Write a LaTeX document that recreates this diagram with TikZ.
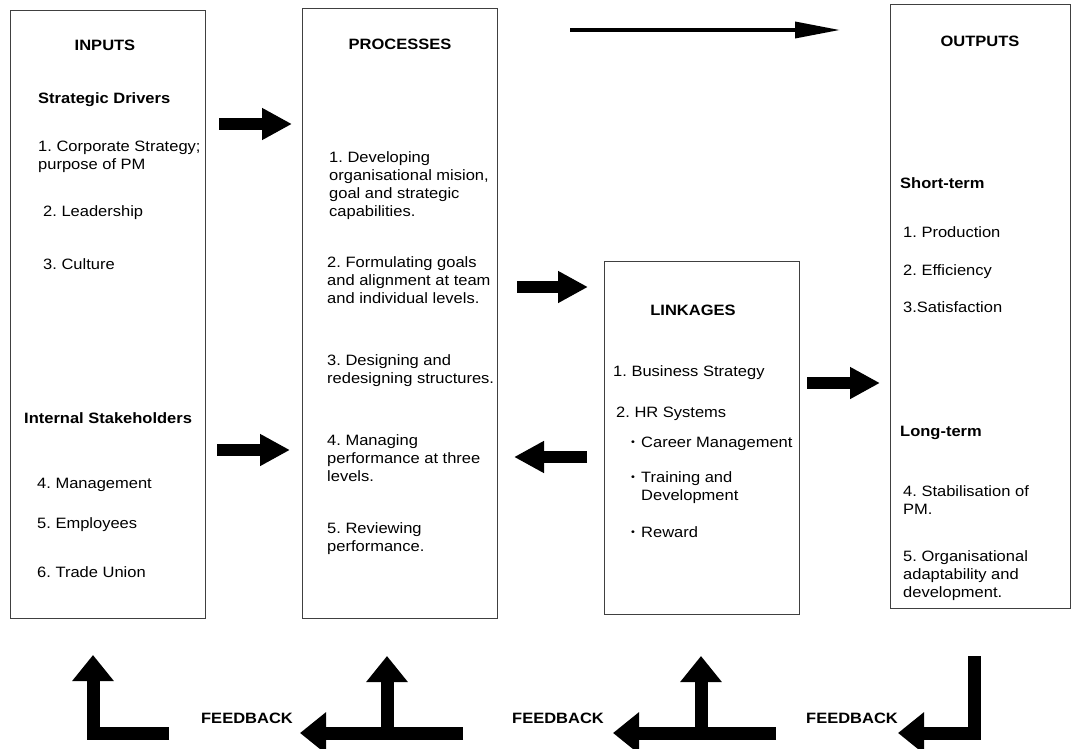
\documentclass[tikz,border=0pt]{standalone}
\usepackage{fontspec}
\setmainfont{Liberation Sans}[FakeStretch=1.1]
\usetikzlibrary{arrows.meta}
\frenchspacing
\newcommand\mybul{\makebox[10pt][l]{\raisebox{1.5pt}{\fontsize{10}{12}\selectfont\textbullet}}}
\begin{document}
\begin{tikzpicture}[x=1pt,y=-1pt,
  box/.style={draw=black!75, line width=1.1pt, anchor=north west, inner sep=0pt},
  txt/.style={anchor=base west, inner sep=0pt, align=left, font=\fontsize{15}{18}\selectfont},
  hd/.style={anchor=base, inner sep=0pt, font=\fontsize{15}{18}\selectfont\bfseries},
  sub/.style={anchor=base west, inner sep=0pt, font=\fontsize{15}{18}\selectfont\bfseries},
  blk/.style={line width=12pt, -{Triangle[length=30pt,width=30pt]}},
  fb/.style={line width=13pt, line join=miter, -{Triangle[length=26pt,width=40pt]}},
  thin/.style={line width=3.5pt, -{Triangle[length=45pt,width=16pt]}},
]
\useasboundingbox (0,0) rectangle (1071,749);
% boxes
\node[box, minimum width=195pt, minimum height=608pt] (inputs) at (10,10) {};
\node[box, minimum width=195pt, minimum height=610pt] (processes) at (302,8) {};
\node[box, minimum width=195pt, minimum height=353pt] (linkages) at (604,261) {};
\node[box, minimum width=180pt, minimum height=604pt] (outputs) at (890,4) {};

% INPUTS
\node[hd] (inT) at (105,51) {INPUTS};
\node[sub] (inS) at (38,104) {Strategic Drivers};
\node[txt] (in1) at (38,170) {1. Corporate Strategy;\\purpose of PM};
\node[txt] (in2) at (43,216) {2. Leadership};
\node[txt] (in3) at (43,269) {3. Culture};
\node[sub] (inI) at (24,423) {Internal Stakeholders};
\node[txt] (in4) at (37,488) {4. Management};
\node[txt] (in5) at (37,528) {5. Employees};
\node[txt] (in6) at (37,577) {6. Trade Union};

% PROCESSES
\node[hd] (prT) at (400,50) {PROCESSES};
\node[txt] (pr1) at (329,216) {1. Developing\\organisational mision,\\goal and strategic\\capabilities.};
\node[txt] (pr2) at (327,303) {2. Formulating goals\\and alignment at team\\and individual levels.};
\node[txt] (pr3) at (327,383) {3. Designing and\\redesigning structures.};
\node[txt] (pr4) at (327,481) {4. Managing\\performance at three\\levels.};
\node[txt] (pr5) at (327,551) {5. Reviewing\\performance.};

% LINKAGES
\node[hd] (lkT) at (693,315) {LINKAGES};
\node[txt] (lk1) at (613,376) {1. Business Strategy};
\node[txt] (lk2) at (616,417) {2. HR Systems};
\node[txt] (lkb1) at (631,447) {\mybul Career Management};
\node[txt] (lkb2) at (631,500) {\mybul Training and\\\hspace*{10pt}Development};
\node[txt] (lkb3) at (631,537) {\mybul Reward};

% OUTPUTS
\node[hd] (ouT) at (980,47) {OUTPUTS};
\node[sub] (ouS) at (900,188) {Short-term};
\node[txt] (ou1) at (903,237) {1. Production};
\node[txt] (ou2) at (903,275) {2. Efficiency};
\node[txt] (ou3) at (903,312) {3.Satisfaction};
\node[sub] (ouL) at (900,436) {Long-term};
\node[txt] (ou4) at (903,514) {4. Stabilisation of\\PM.};
\node[txt] (ou5) at (903,597) {5. Organisational\\adaptability and\\development.};

% FEEDBACK labels
\node[hd] (fbA) at (247,723) {FEEDBACK};
\node[hd] (fbB) at (558,723) {FEEDBACK};
\node[hd] (fbC) at (852,723) {FEEDBACK};

% arrow coordinates
\coordinate (a1s) at (219,124); \coordinate (a1e) at (292,124);
\coordinate (a2s) at (217,450); \coordinate (a2e) at (290,450);
\coordinate (a3s) at (517,287); \coordinate (a3e) at (588,287);
\coordinate (a4s) at (587,457); \coordinate (a4e) at (514,457);
\coordinate (a5s) at (807,383); \coordinate (a5e) at (880,383);
\coordinate (ts) at (570,30); \coordinate (te) at (840,30);

\draw[blk] (a1s) -- (a1e);
\draw[blk] (a2s) -- (a2e);
\draw[blk] (a3s) -- (a3e);
\draw[blk] (a4s) -- (a4e);
\draw[blk] (a5s) -- (a5e);
\draw[thin] (ts) -- (te);

% feedback arrows
\coordinate (f1s) at (169,733); \coordinate (f1e) at (93,655);
\coordinate (f2s) at (463,733); \coordinate (f2e) at (300,733);
\coordinate (f2m) at (387,733); \coordinate (f2u) at (387,656);
\coordinate (f3s) at (776,733); \coordinate (f3e) at (613,733);
\coordinate (f3m) at (701,733); \coordinate (f3u) at (701,656);
\coordinate (f4s) at (974,656); \coordinate (f4e) at (898,733);

\draw[fb] (f1s) -| (f1e);
\draw[fb] (f2s) -- (f2e);
\draw[fb] (f2m) -- (f2u);
\draw[fb] (f3s) -- (f3e);
\draw[fb] (f3m) -- (f3u);
\draw[fb] (f4s) |- (f4e);
\end{tikzpicture}
\end{document}
